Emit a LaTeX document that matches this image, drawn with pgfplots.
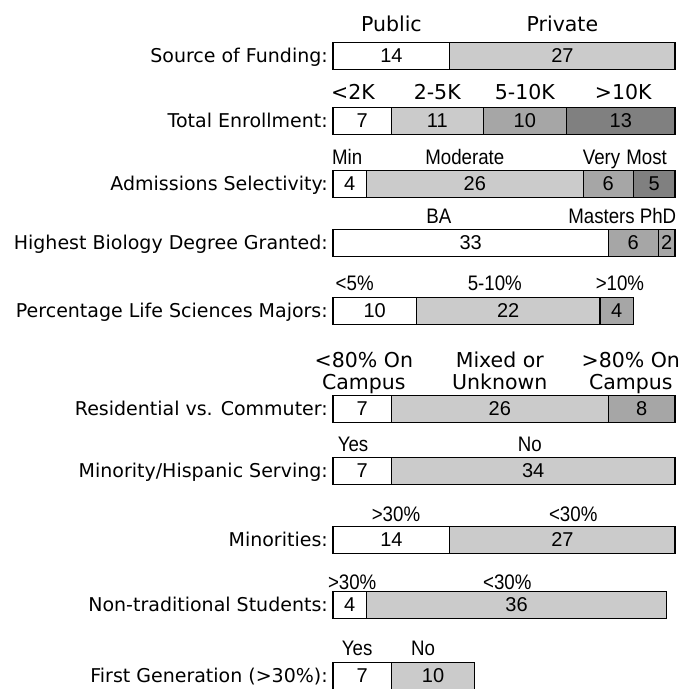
\documentclass[border=0pt]{standalone}
\usepackage{pgfplots}
\usepackage{pgfplotstable}
\pgfplotsset{compat=1.18}
\usepackage{fontspec}
\setmainfont{DejaVu Sans}
\newfontfamily\arial{Liberation Sans}
\newfontfamily\arialn[FakeStretch=0.89]{Liberation Sans}
\newcommand\catf{\fontsize{19}{23}\selectfont}
\newcommand\djf{\fontsize{20.5}{24}\selectfont}
\newcommand\arf{\arialn\fontsize{21}{25}\selectfont}
\newcommand\valf{\arial\fontsize{20}{24}\selectfont}
\definecolor{cl}{HTML}{CBCBCB}
\definecolor{cm}{HTML}{A6A6A6}
\definecolor{cd}{HTML}{808080}
\pgfplotstableread{
y a b c d e
-56 14 27 0 0 0
-121 7 11 10 13 0
-184 4 26 6 5 0
-243 33 0 6 0 2
-311 10 22 4 0 0
-409 7 26 8 0 0
-471 7 34 0 0 0
-540 14 27 0 0 0
-605 4 36 0 0 0
-676 7 10 0 0 0
}\data
\newcommand\cat[2]{\node[anchor=base east,inner sep=0pt,font=\catf,xshift=-5pt] at (axis cs:0,#1) {#2};}
\newcommand\tla[3]{\node[anchor=base,inner sep=0pt,font=\arf] at (axis cs:#1,#2) {#3};}
\newcommand\tld[3]{\node[anchor=base,inner sep=0pt,font=\djf] at (axis cs:#1,#2) {#3};}
\pgfplotsset{base/.style={scale only axis, width=342pt, height=689pt,
  xmin=0, xmax=41, ymin=-689, ymax=0, enlargelimits=false, hide axis, clip=false}}
\begin{document}
\begin{tikzpicture}
\useasboundingbox (-333pt,0pt) rectangle (353pt,689pt);
\begin{axis}[base, xbar stacked, bar width=27]
\addplot[fill=white, draw=black, line width=1.2pt] table[x=a, y=y] {\data};
\addplot[fill=cl, draw=black, line width=1.2pt] table[x=b, y=y] {\data};
\addplot[fill=cm, draw=black, line width=1.2pt] table[x=c, y=y] {\data};
\addplot[fill=cd, draw=black, line width=1.2pt] table[x=d, y=y] {\data};
\addplot[fill=cm, draw=black, line width=1.2pt] table[x=e, y=y] {\data};
\end{axis}
\begin{axis}[base,
  /pgf/number format/assume math mode=true,
  point meta=explicit,
  nodes near coords={\pgfmathfloatifflags{\pgfplotspointmeta}{0}{}{\pgfmathprintnumber{\pgfplotspointmeta}}},
  every node near coord/.append style={anchor=center, font=\valf, inner sep=0pt, text=black},
]
\addplot[draw=none, mark=none] table[x expr=\thisrow{a}/2, y=y, meta=a] {\data};
\addplot[draw=none, mark=none] table[x expr=\thisrow{a}+\thisrow{b}/2, y=y, meta=b] {\data};
\addplot[draw=none, mark=none] table[x expr=\thisrow{a}+\thisrow{b}+\thisrow{c}/2, y=y, meta=c] {\data};
\addplot[draw=none, mark=none] table[x expr=\thisrow{a}+\thisrow{b}+\thisrow{c}+\thisrow{d}/2, y=y, meta=d] {\data};
\addplot[draw=none, mark=none] table[x expr=\thisrow{a}+\thisrow{b}+\thisrow{c}+\thisrow{d}+\thisrow{e}/2, y=y, meta=e] {\data};
\cat{-63}{Source of Funding:}
\cat{-128}{Total Enrollment:}
\cat{-191}{Admissions Selectivity:}
\cat{-250}{Highest Biology Degree Granted:}
\cat{-318}{Percentage Life Sciences Majors:}
\cat{-416}{Residential vs. Commuter:}
\cat{-478}{Minority/Hispanic Serving:}
\cat{-547}{Minorities:}
\cat{-612}{Non-traditional Students:}
\cat{-683}{First Generation (>30\%):}
\tld{7}{-32}{Public}
\tld{27.5}{-32}{Private}
\tld{2.4}{-100}{<2K}
\tld{12.5}{-100}{2-5K}
\tld{23}{-100}{5-10K}
\tld{34.8}{-100}{>10K}
\tla{1.7}{-165}{Min}
\tla{15.8}{-165}{Moderate}
\tla{32.2}{-165}{Very}
\tla{37.6}{-165}{Most}
\tla{12.7}{-224}{BA}
\tla{32.2}{-224}{Masters}
\tla{38.96}{-224}{PhD}
\tla{2.6}{-291}{<5\%}
\tla{19.4}{-291}{5-10\%}
\tla{34.4}{-291}{>10\%}
\tld{3.7}{-368}{<80\% On}
\tld{20}{-368}{Mixed or}
\tld{35.7}{-368}{>80\% On}
\tld{3.7}{-390}{Campus}
\tld{20}{-390}{Unknown}
\tld{35.7}{-390}{Campus}
\tla{2.4}{-452}{Yes}
\tla{23.6}{-452}{No}
\tla{7.55}{-522}{>30\%}
\tla{28.8}{-522}{<30\%}
\tla{2.3}{-590}{>30\%}
\tla{20.9}{-590}{<30\%}
\tla{2.9}{-656}{Yes}
\tla{10.8}{-656}{No}
\end{axis}
\end{tikzpicture}
\end{document}
